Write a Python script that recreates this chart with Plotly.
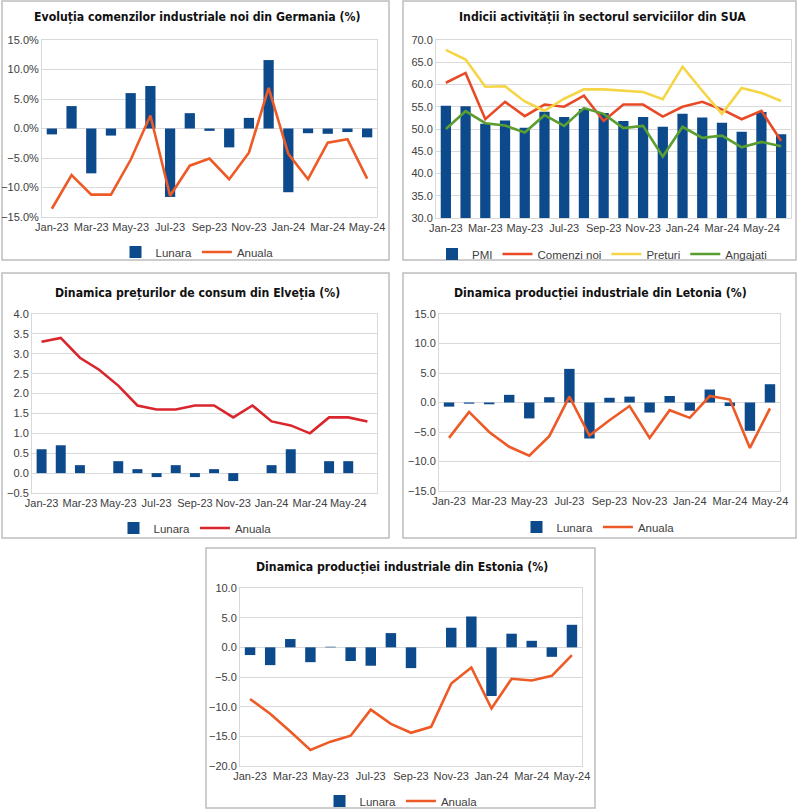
import plotly.graph_objects as go

# ---------------- data ----------------
months17 = ["Jan-23", "Feb-23", "Mar-23", "Apr-23", "May-23", "Jun-23", "Jul-23", "Aug-23",
            "Sep-23", "Oct-23", "Nov-23", "Dec-23", "Jan-24", "Feb-24", "Mar-24", "Apr-24", "May-24"]
months18 = months17 + ["Jun-24"]

de_lunara = [-1.0, 3.8, -7.6, -1.2, 6.0, 7.2, -11.6, 2.6, -0.4, -3.2, 1.8, 11.6, -10.8, -0.8, -0.9, -0.6, -1.5]
de_anuala = [-13.6, -7.9, -11.2, -11.2, -5.3, 2.2, -11.4, -6.3, -5.1, -8.6, -4.1, 6.9, -4.3, -8.6, -2.4, -1.8, -8.5]

us_pmi = [55.2, 55.1, 51.2, 51.9, 50.3, 53.9, 52.7, 54.5, 53.6, 51.8, 52.7, 50.5, 53.4, 52.6, 51.4, 49.4, 53.8, 48.8]
us_comenzi = [60.4, 62.6, 52.2, 56.1, 52.9, 55.5, 55.0, 57.5, 51.8, 55.5, 55.5, 52.8, 55.0, 56.1, 54.4, 52.2, 54.1, 47.3]
us_preturi = [67.8, 65.6, 59.5, 59.6, 56.2, 54.1, 56.8, 58.9, 58.9, 58.6, 58.3, 56.7, 64.0, 58.6, 53.4, 59.2, 58.1, 56.3]
us_angajati = [50.0, 54.0, 51.3, 50.8, 49.2, 53.1, 50.7, 54.7, 53.4, 50.2, 50.7, 43.8, 50.5, 48.0, 48.5, 45.9, 47.1, 46.1]

ch_lunara = [0.6, 0.7, 0.2, 0.0, 0.3, 0.1, -0.1, 0.2, -0.1, 0.1, -0.2, 0.0, 0.2, 0.6, 0.0, 0.3, 0.3, 0.0]
ch_anuala = [3.3, 3.4, 2.9, 2.6, 2.2, 1.7, 1.6, 1.6, 1.7, 1.7, 1.4, 1.7, 1.3, 1.2, 1.0, 1.4, 1.4, 1.3]

lv_lunara = [-0.7, -0.2, -0.3, 1.3, -2.7, 0.9, 5.7, -6.1, 0.8, 1.0, -1.7, 1.1, -1.4, 2.2, -0.6, -4.8, 3.1]
lv_anuala = [-6.0, -1.6, -5.0, -7.5, -9.0, -5.7, 1.0, -5.6, -3.0, -0.6, -6.0, -1.3, -2.6, 1.1, 0.5, -7.7, -1.0]

ee_lunara = [-1.3, -3.0, 1.4, -2.5, 0.1, -2.3, -3.1, 2.4, -3.5, 0.0, 3.3, 5.2, -8.2, 2.3, 1.1, -1.6, 3.8]
ee_anuala = [-8.7, -11.2, -14.2, -17.3, -15.9, -14.9, -10.5, -12.9, -14.4, -13.4, -6.1, -3.4, -10.3, -5.3, -5.6, -4.8, -1.3]

titles = [
    "Evoluția comenzilor industriale noi din Germania (%)",
    "Indicii activității în sectorul serviciilor din SUA",
    "Dinamica prețurilor de consum din Elveția (%)",
    "Dinamica producției industriale din Letonia (%)",
    "Dinamica producției industriale din Estonia (%)",
]

# ---------------- style ----------------
W, H = 800, 810
BLUE = "#0d4a8c"
ORANGE = "#ee5a26"
RED_CH = "#d8262c"
RED_US = "#e84a27"
YELLOW = "#f5d545"
GREEN = "#5a9e31"
GRID = "#d9d9d9"
TXT = "#404040"
TICKFONT = dict(family="Liberation Sans, Arial, sans-serif", size=11, color=TXT)
TITLEFONT = dict(family="Liberation Sans Narrow, DejaVu Sans Condensed, sans-serif", size=12.2, color="#111111")


def px_x(v):
    return v / W


def px_y(v):
    return 1 - v / H


# panel definitions: plot area in pixels (left, right, top, bottom), frame, title, legend
panels = [
    dict(plot=(42, 377, 40, 217), frame=(2, 389, 1, 260), title=(197, 17), legend=(197, 252)),
    dict(plot=(436, 791, 40, 218), frame=(403, 796, 1, 260), title=(602, 17), legend=(602, 254)),
    dict(plot=(32, 377, 314, 493), frame=(2, 389, 273, 538), title=(197, 293), legend=(195, 528)),
    dict(plot=(439, 780, 314, 491), frame=(403, 796, 273, 538), title=(600, 293), legend=(598, 527)),
    dict(plot=(240, 582, 588, 766), frame=(206, 595, 548, 808), title=(402, 567), legend=(401, 801)),
]

fig = go.Figure()


def add_bar(i, x, y, name):
    fig.add_trace(go.Bar(x=x, y=y, name=name, marker=dict(color=BLUE, line=dict(width=0)),
                         xaxis=f"x{i+1}" if i else "x", yaxis=f"y{i+1}" if i else "y",
                         legend=f"legend{i+1}" if i else "legend"))


def add_line(i, x, y, name, color):
    fig.add_trace(go.Scatter(x=x, y=y, name=name, mode="lines", line=dict(color=color, width=2.6),
                             xaxis=f"x{i+1}" if i else "x", yaxis=f"y{i+1}" if i else "y",
                             legend=f"legend{i+1}" if i else "legend"))


add_bar(0, months17, de_lunara, "Lunara")
add_line(0, months17, de_anuala, "Anuala", ORANGE)

add_bar(1, months18, us_pmi, "PMI")
add_line(1, months18, us_comenzi, "Comenzi noi", RED_US)
add_line(1, months18, us_preturi, "Preturi", YELLOW)
add_line(1, months18, us_angajati, "Angajati", GREEN)

add_bar(2, months18, ch_lunara, "Lunara")
add_line(2, months18, ch_anuala, "Anuala", RED_CH)

add_bar(3, months17, lv_lunara, "Lunara")
add_line(3, months17, lv_anuala, "Anuala", ORANGE)

add_bar(4, months17, ee_lunara, "Lunara")
add_line(4, months17, ee_anuala, "Anuala", ORANGE)

yspecs = [
    dict(range=[-15, 15], dtick=5, tickformat=".1f", ticksuffix="%"),
    dict(range=[30, 70], dtick=5, tickformat=".1f", ticksuffix=""),
    dict(range=[-0.5, 4], dtick=0.5, tickformat=".1f", ticksuffix=""),
    dict(range=[-15, 15], dtick=5, tickformat=".1f", ticksuffix=""),
    dict(range=[-20, 10], dtick=5, tickformat=".1f", ticksuffix=""),
]
xcats = [months17, months18, months18, months17, months17]

layout = dict(
    width=W, height=H, margin=dict(l=0, r=0, t=0, b=0, autoexpand=False),
    paper_bgcolor="white", plot_bgcolor="white",
    bargap=0.48, showlegend=True,
)

shapes = []
annotations = []
for i, p in enumerate(panels):
    l, r, t, b = p["plot"]
    suffix = str(i + 1) if i else ""
    anchor_x = f"y{i+1}" if i else "y"
    anchor_y = f"x{i+1}" if i else "x"
    cats = xcats[i]
    layout[f"xaxis{suffix}"] = dict(
        domain=[px_x(l), px_x(r)], anchor=anchor_x, type="category",
        categoryorder="array", categoryarray=cats,
        range=[-0.5, len(cats) - 0.5],
        tickmode="array", tickvals=cats[::2], ticktext=cats[::2], tickangle=0,
        showgrid=False, showline=True, linecolor=GRID, linewidth=1, mirror=True,
        ticks="", tickfont=TICKFONT, fixedrange=True, automargin=False,
    )
    ys = yspecs[i]
    layout[f"yaxis{suffix}"] = dict(
        domain=[px_y(b), px_y(t)], anchor=anchor_y,
        range=ys["range"], dtick=ys["dtick"], tickformat=ys["tickformat"], ticksuffix=ys["ticksuffix"],
        showgrid=True, gridcolor=GRID, gridwidth=1, zeroline=True, zerolinecolor=GRID, zerolinewidth=1,
        showline=True, linecolor=GRID, linewidth=1, mirror=True,
        ticks="", tickfont=TICKFONT, fixedrange=True, automargin=False,
    )
    lx, ly = p["legend"]
    layout[f"legend{suffix}"] = dict(
        orientation="h", x=px_x(lx), y=px_y(ly), xanchor="center", yanchor="middle",
        font=dict(family="Liberation Sans, Arial, sans-serif", size=11.5, color=TXT),
        bgcolor="rgba(0,0,0,0)", itemwidth=30, tracegroupgap=0,
    )
    fx0, fx1, fy0, fy1 = p["frame"]
    shapes.append(dict(type="rect", xref="paper", yref="paper",
                       x0=px_x(fx0), x1=px_x(fx1), y0=px_y(fy1), y1=px_y(fy0),
                       line=dict(color="#bdbdbd", width=1.5), fillcolor="rgba(0,0,0,0)", layer="below"))
    tx, ty = p["title"]
    annotations.append(dict(text=f"<b>{titles[i]}</b>", xref="paper", yref="paper",
                            x=px_x(tx), y=px_y(ty), xanchor="center", yanchor="middle",
                            showarrow=False, font=TITLEFONT))

layout["shapes"] = shapes
layout["annotations"] = annotations
fig.update_layout(**layout)

fig.write_html("out.html",
               config={"displayModeBar": False, "staticPlot": True},
               post_script="document.body.style.margin='0';document.body.style.padding='0';"
                           "document.body.style.overflow='hidden';")
